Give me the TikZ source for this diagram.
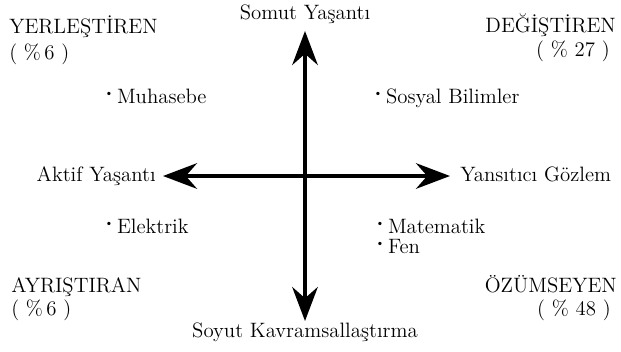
\documentclass[tikz,border=0pt]{standalone}
\usepackage{fontspec}
\usepackage{tikz}
\usetikzlibrary{arrows.meta,positioning}

% raised bullet before the branch names
\newcommand{\itemdot}{\raisebox{0.75ex}{\footnotesize\textbullet}\,}

\begin{document}
\begin{tikzpicture}[x=0.025cm,y=-0.025cm,
    every node/.style={inner sep=0pt,font=\fontsize{14.8}{17}\selectfont},
    axis/.style={line width=2.4pt,{Stealth[length=8.5mm,width=6.4mm,inset=2.8mm]}-{Stealth[length=8.5mm,width=6.4mm,inset=2.8mm]}}]
    \useasboundingbox (0,0) rectangle (621,351);

    % Axes
    \coordinate (ustuc) at (305,31);
    \coordinate (altuc) at (305,321);
    \coordinate (soluc) at (163,176);
    \coordinate (saguc) at (450,176);
    \draw[axis] (altuc) -- (ustuc);
    \draw[axis] (soluc) -- (saguc);

    % Axis labels
    \node[anchor=base] (somut) at (305,19) {Somut Yaşantı};
    \node[anchor=base] (soyut) at (305,337) {Soyut Kavramsallaştırma};
    \node[anchor=base east] (aktif) at (156,181) {Aktif Yaşantı};
    \node[anchor=base west] (yansitici) at (460,181) {Yansıtıcı Gözlem};

    % Learning styles
    \node[anchor=base west] (yerlestiren) at (9,33) {YERLEŞTİREN};
    \node[anchor=base west] (yerlestirenp) at (9,59) {( \%\,6 )};
    \node[anchor=base east] (degistiren) at (616,32) {DEĞİŞTİREN};
    \node[anchor=base east] (degistirenp) at (610,56) {( \% 27 )};
    \node[anchor=base west] (ayristiran) at (11,292) {AYRIŞTIRAN};
    \node[anchor=base west] (ayristiranp) at (11,315) {( \%\,6 )};
    \node[anchor=base east] (ozumseyen) at (617,292) {ÖZÜMSEYEN};
    \node[anchor=base east] (ozumseyenp) at (611,315) {( \% 48 )};

    % Fields
    \node[anchor=base west] (muhasebe) at (104,103) {\itemdot Muhasebe};
    \node[anchor=base west] (sosyal) at (373,103) {\itemdot Sosyal Bilimler};
    \node[anchor=base west] (elektrik) at (104,233) {\itemdot Elektrik};
    \node[anchor=base west] (matematik) at (375,233) {\itemdot Matematik};
    \node[anchor=base west] (fen) at (375,253) {\itemdot Fen};
\end{tikzpicture}
\end{document}
